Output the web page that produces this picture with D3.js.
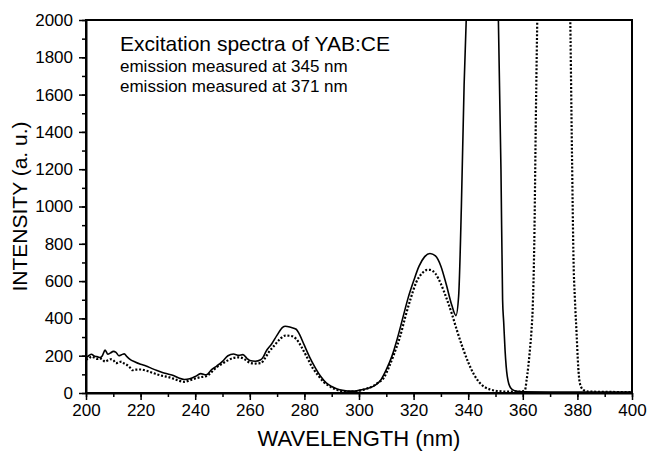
<!DOCTYPE html>
<html>
<head>
<meta charset="utf-8">
<script src="https://cdn.jsdelivr.net/npm/d3@7"></script>
<style>
  html, body { margin: 0; padding: 0; background: #fff; }
  text { font-family: "Liberation Sans", Arial, Helvetica, sans-serif; fill: #000; }
</style>
</head>
<body>
<svg id="chart" width="647" height="451"></svg>
<script>
// ---- data ----
const solidWavelength = [200,201,202,203,204,205,206,207,208,209,210,211,212,213,214,215,216,218,220,222,224,226,228,230,232,234,236,238,240,242,244,246,248,250,252,254,256,257.5,259,260,262,264,265,266,268,270,272,273,275,277,278,280,282,284,286,288,290,292,294,296,298,300,302,304,306,308,310,312,314,316,318,320,322,324,326,328,330,332,334,335.5,336.5,337.5,338.5,339.5,341,345,349,351,352,352.6,353,353.5,354.3,355.5,357,360,370,380,390,400];
const solidIntensity  = [190,200,208,198,195,190,200,230,208,215,223,218,200,205,210,195,182,166,154,145,132,120,110,102,94,80,72,76,88,104,97,125,146,170,200,209,202,206,185,174,170,178,195,225,263,310,352,358,352,342,320,255,190,135,88,54,35,22,14,10,10,14,20,28,42,70,125,195,290,400,510,600,680,730,748,735,680,580,470,415,520,1000,1650,2100,2600,3000,2600,2050,1200,500,380,230,90,28,12,6,5,5,5,5];

const dottedWavelength = [200,201,202,203,204,205,206,207,208,209,210,211,212,213,214,215,216,217,218,220,222,224,226,228,230,232,234,236,238,240,242,244,246,248,250,252,254,256,258,260,262,264,265.5,267,269,271,273,275,277,279,281,283,285,287,289,291,293,295,297,299,301,303,305,307,309,311,313,315,317,319,321,323,325,326,328,330,332,334,336,338,340,342,344,346,348,350,352,354,358,360,360.8,361.4,362,362.6,363.2,363.6,364.2,364.8,365.4,366.5,371,376,377.3,378,378.6,379.1,379.7,380.3,380.9,382.2,384,390,400];
const dottedIntensity  = [180,185,195,190,183,186,180,168,175,181,176,160,165,168,158,150,138,122,125,126,120,110,100,92,86,77,66,60,68,78,85,90,112,140,158,175,188,191,182,162,158,160,185,220,255,288,308,306,290,245,190,135,95,60,38,22,12,8,7,9,15,24,36,55,80,140,215,300,410,510,595,640,660,660,640,585,510,425,330,242,165,102,58,32,19,12,9,7,7,10,16,70,141,231,338,445,800,1500,2100,3000,3500,3000,2100,1300,700,499,320,141,52,16,8,6,5];

const xTickValues = [200,220,240,260,280,300,320,340,360,380,400];
const yTickValues = [0,200,400,600,800,1000,1200,1400,1600,1800,2000];
const legendLines = ["Excitation spectra of YAB:CE", "emission measured at 345 nm", "emission measured at 371 nm"];
const xTitle = "WAVELENGTH (nm)";
const yTitle = "INTENSITY (a. u.)";

// ---- layout ----
const W = 647, H = 451;
const margin = {left: 86, right: 15, top: 20, bottom: 58};
const w = W - margin.left - margin.right;
const h = H - margin.top - margin.bottom;

const svg = d3.select("#chart");
const g = svg.append("g").attr("transform", `translate(${margin.left},${margin.top})`);

const x = d3.scaleLinear().domain([200, 400]).range([0, w]);
const y = d3.scaleLinear().domain([0, 2000]).range([h, 0]);

svg.append("defs").append("clipPath").attr("id", "clip")
  .append("rect").attr("x", 0).attr("y", 0).attr("width", w).attr("height", h);

// curves
const line = d3.line().x(d => x(d[0])).y(d => y(d[1])).curve(d3.curveMonotoneX);
const solidData = solidWavelength.map((v, i) => [v, solidIntensity[i]]);
const dottedData = dottedWavelength.map((v, i) => [v, dottedIntensity[i]]);

const plot = g.append("g").attr("clip-path", "url(#clip)");
plot.append("path").datum(dottedData).attr("d", line)
  .attr("fill", "none").attr("stroke", "#000").attr("stroke-width", 2.2)
  .attr("stroke-dasharray", "2,1.8");
plot.append("path").datum(solidData).attr("d", line)
  .attr("fill", "none").attr("stroke", "#000").attr("stroke-width", 1.6);

// minor ticks
const xMinor = d3.range(200, 401, 10);
const yMinor = d3.range(0, 2001, 100);
g.append("g").attr("transform", `translate(0,${h})`)
  .call(d3.axisBottom(x).tickValues(xMinor).tickSize(4).tickFormat(""))
  .call(s => s.select(".domain").remove())
  .call(s => s.selectAll("line").attr("stroke-width", 1.5));
g.append("g")
  .call(d3.axisLeft(y).tickValues(yMinor).tickSize(4).tickFormat(""))
  .call(s => s.select(".domain").remove())
  .call(s => s.selectAll("line").attr("stroke-width", 1.5));

// major axes
const xAxis = g.append("g").attr("transform", `translate(0,${h})`)
  .call(d3.axisBottom(x).tickValues(xTickValues).tickSize(7).tickPadding(4).tickSizeOuter(0).tickFormat(d3.format("d")));
const yAxis = g.append("g")
  .call(d3.axisLeft(y).tickValues(yTickValues).tickSize(7).tickPadding(6).tickSizeOuter(0).tickFormat(d3.format("d")));
[xAxis, yAxis].forEach(a => {
  a.selectAll("text").attr("font-size", 17);
  a.selectAll(".tick line").attr("stroke-width", 1.5);
  a.select(".domain").attr("stroke-width", 2);
});

// frame
g.append("rect").attr("x", 0).attr("y", 0).attr("width", w).attr("height", h)
  .attr("fill", "none").attr("stroke", "#000").attr("stroke-width", 2);

// legend text
g.append("text").attr("x", 34).attr("y", 31).attr("font-size", 21).text(legendLines[0]);
g.append("text").attr("x", 34).attr("y", 52).attr("font-size", 17).text(legendLines[1]);
g.append("text").attr("x", 34).attr("y", 72).attr("font-size", 17).text(legendLines[2]);

// axis titles
svg.append("text").attr("x", margin.left + w / 2).attr("y", 446)
  .attr("text-anchor", "middle").attr("font-size", 22).text(xTitle);
svg.append("text").attr("transform", `translate(27,${margin.top + h / 2}) rotate(-90)`)
  .attr("text-anchor", "middle").attr("font-size", 21).text(yTitle);
</script>
</body>
</html>
